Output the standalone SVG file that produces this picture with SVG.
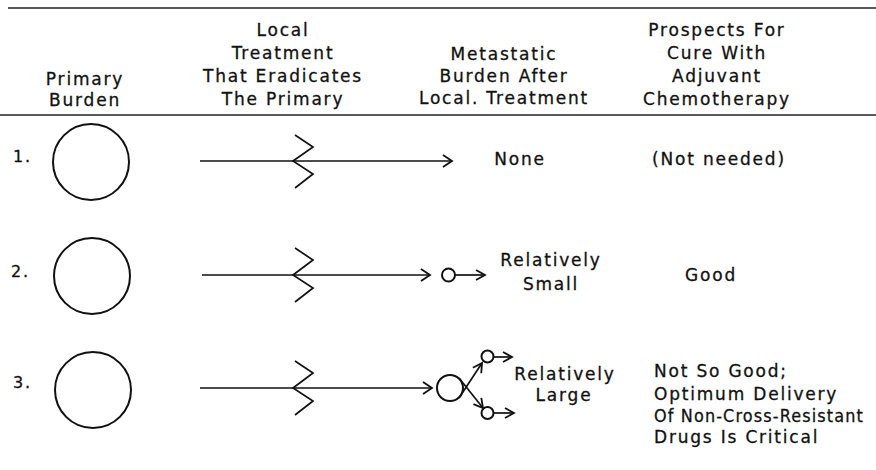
<svg xmlns="http://www.w3.org/2000/svg" width="876" height="470" viewBox="0 0 876 470">
<defs>
<style>
text{font-family:"DejaVu Sans","Liberation Sans",sans-serif;font-size:17px;letter-spacing:1.8px;fill:#111;stroke:#111;stroke-width:0.3px}
.c{text-anchor:middle}
.num{font-size:16px}
.ln{stroke:#111;stroke-width:1.7;fill:none}
.rule{stroke:#222;stroke-width:1.6}
.circ{stroke:#111;stroke-width:2;fill:none}
</style>
<marker id="ah" markerWidth="12" markerHeight="14" refX="10" refY="7" orient="auto" markerUnits="userSpaceOnUse">
<path d="M1,1 L10,7 L1,13" fill="none" stroke="#111" stroke-width="1.8"/>
</marker>
<marker id="ahs" markerWidth="12" markerHeight="12" refX="10" refY="6" orient="auto" markerUnits="userSpaceOnUse">
<path d="M1,1 L10,6 L1,11" fill="none" stroke="#111" stroke-width="1.8"/>
</marker>
</defs>
<rect width="876" height="470" fill="#fff"/>
<line class="rule" x1="8" y1="8" x2="876" y2="8"/>
<line class="rule" x1="0" y1="115" x2="876" y2="115"/>

<g id="hdr-primary">
<text class="c" x="85" y="85">Primary</text>
<text class="c" x="85" y="106">Burden</text>
</g>
<g id="hdr-local">
<text class="c" x="283" y="36">Local</text>
<text class="c" x="283" y="59">Treatment</text>
<text class="c" x="283" y="82">That Eradicates</text>
<text class="c" x="283" y="105">The Primary</text>
</g>
<g id="hdr-meta">
<text class="c" x="504" y="60">Metastatic</text>
<text class="c" x="504" y="82">Burden After</text>
<text class="c" x="504" y="104">Local. Treatment</text>
</g>
<g id="hdr-prospects">
<text class="c" x="717" y="36">Prospects For</text>
<text class="c" x="717" y="59">Cure With</text>
<text class="c" x="717" y="82">Adjuvant</text>
<text class="c" x="717" y="105">Chemotherapy</text>
</g>

<g id="row1">
<text class="num" x="13" y="162">1.</text>
<circle class="circ" cx="91" cy="162" r="38"/>
<text class="c" x="520" y="165">None</text>
<text class="c" x="719" y="165">(Not needed)</text>
</g>
<g id="row2">
<text class="num" x="11" y="277">2.</text>
<circle class="circ" cx="92" cy="276" r="38"/>
<circle class="circ" cx="448.5" cy="275" r="6.5"/>
<text class="c" x="551" y="266">Relatively</text>
<text class="c" x="551" y="290">Small</text>
<text class="c" x="711" y="281">Good</text>
</g>
<g id="row3">
<text class="num" x="13" y="388">3.</text>
<circle class="circ" cx="93" cy="390" r="38"/>
<circle class="circ" cx="450" cy="388" r="13"/>
<circle class="circ" cx="487.5" cy="356.5" r="6"/>
<circle class="circ" cx="487.5" cy="413" r="6"/>
<text class="c" x="565" y="380">Relatively</text>
<text class="c" x="564" y="401">Large</text>
<text x="654" y="377">Not So Good;</text>
<text x="654" y="400">Optimum Delivery</text>
<text x="654" y="422" textLength="210" lengthAdjust="spacingAndGlyphs" style="letter-spacing:1.2px">Of Non-Cross-Resistant</text>
<text x="654" y="443">Drugs Is Critical</text>
</g>

<g id="connectors">
<line class="ln" x1="200" y1="161" x2="452" y2="161" marker-end="url(#ah)"/>
<polyline class="ln" points="295,135 313,147 293,161 313,174 295,188"/>
<line class="ln" x1="202" y1="275" x2="430" y2="275" marker-end="url(#ah)"/>
<polyline class="ln" points="295,248 313,260 293,275 313,288 295,302"/>
<line class="ln" x1="455" y1="275" x2="485" y2="275" marker-end="url(#ahs)"/>
<line class="ln" x1="200" y1="388" x2="432" y2="388" marker-end="url(#ah)"/>
<polyline class="ln" points="295,361 313,373 293,388 313,401 295,415"/>
<line class="ln" x1="459" y1="398" x2="482" y2="363" marker-end="url(#ahs)"/>
<line class="ln" x1="459" y1="378" x2="483" y2="408" marker-end="url(#ahs)"/>
<line class="ln" x1="493.5" y1="357" x2="512" y2="357" marker-end="url(#ahs)"/>
<line class="ln" x1="493.5" y1="413" x2="514" y2="413" marker-end="url(#ahs)"/>
</g>
</svg>
